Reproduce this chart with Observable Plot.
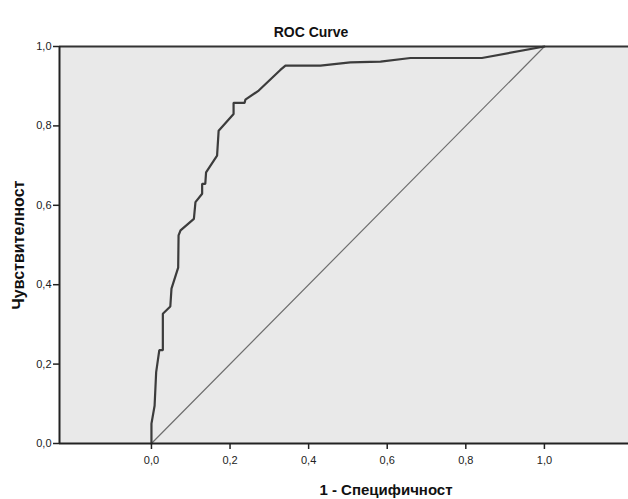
<!DOCTYPE html>
<html>
<head>
<meta charset="utf-8">
<script src="https://cdn.jsdelivr.net/npm/d3@7"></script>
<script src="https://cdn.jsdelivr.net/npm/@observablehq/plot@0.6"></script>
<style>
  html, body { margin: 0; padding: 0; background: #fff; }
  #chart svg { display: block; }
</style>
</head>
<body>
<div id="chart"></div>
<script>
// ROC curve points
const fpr = [0, 0, 0.008, 0.012, 0.020, 0.029, 0.029, 0.048, 0.051, 0.068, 0.069, 0.074,
             0.108, 0.112, 0.129, 0.129, 0.137, 0.139, 0.167, 0.171, 0.209, 0.209, 0.237,
             0.239, 0.273, 0.328, 0.341, 0.430, 0.506, 0.583, 0.659, 0.841, 1];
const tpr = [0, 0.050, 0.095, 0.180, 0.235, 0.235, 0.327, 0.345, 0.390, 0.443, 0.524, 0.537,
             0.566, 0.608, 0.629, 0.654, 0.654, 0.683, 0.725, 0.788, 0.830, 0.858, 0.858,
             0.866, 0.889, 0.941, 0.952, 0.952, 0.960, 0.962, 0.971, 0.971, 1];
const refLine = [[0, 0], [1, 1]];
const xTicks = [0, 0.2, 0.4, 0.6, 0.8, 1.0];
const yTicks = [0, 0.2, 0.4, 0.6, 0.8, 1.0];
const xDomain = [-0.234, 1.214];
const yDomain = [0, 1];
const title = "ROC Curve";
const xLabel = "1 - Специфичност";
const yLabel = "Чувствителност";

const curve = fpr.map((x, i) => ({x, y: tpr[i]}));
const fmt = d => d3.format(".1f")(d).replace(".", ",");

const chart = Plot.plot({
  width: 628,
  height: 499,
  marginLeft: 59,
  marginRight: 0,
  marginTop: 46,
  marginBottom: 56,
  style: {fontFamily: "'Liberation Sans', Arial, sans-serif", fontSize: "11px", color: "#222", background: "#fff"},
  x: {domain: xDomain},
  y: {domain: yDomain},
  marks: [
    Plot.frame({fill: "#e9e9e9", stroke: "none"}),
    Plot.line(refLine, {x: d => d[0], y: d => d[1], stroke: "#6e6e6e", strokeWidth: 1.2}),
    Plot.line(curve, {x: "x", y: "y", stroke: "#3c3c3c", strokeWidth: 2.2, strokeLinejoin: "miter"}),
    Plot.ruleY([yDomain[1]], {stroke: "#333", strokeWidth: 2}),
    Plot.ruleY([yDomain[0]], {stroke: "#222", strokeWidth: 2}),
    Plot.ruleX([xDomain[0]], {stroke: "#222", strokeWidth: 2}),
    Plot.axisX({ticks: xTicks, tickFormat: fmt, tickSize: 6, tickPadding: 7, label: null, stroke: "#222", strokeWidth: 1.5, fill: "#222"}),
    Plot.axisY({ticks: yTicks, tickFormat: fmt, tickSize: 6, tickPadding: 2, label: null, stroke: "#222", strokeWidth: 1.5, fill: "#222"}),
    Plot.text([title], {frameAnchor: "top", text: d => d, dx: -33, dy: -14, lineAnchor: "middle", fontWeight: "bold", fontSize: 14, fill: "#111"}),
    Plot.text([xLabel], {frameAnchor: "bottom", text: d => d, textAnchor: "middle", dx: 42, dy: 47, lineAnchor: "middle", fontWeight: "bold", fontSize: 15, fill: "#111"}),
    Plot.text([yLabel], {frameAnchor: "left", text: d => d, textAnchor: "middle", dx: -41, rotate: -90, lineAnchor: "middle", fontWeight: "bold", fontSize: 16, fill: "#111"})
  ]
});
document.getElementById("chart").appendChild(chart);
</script>
</body>
</html>
